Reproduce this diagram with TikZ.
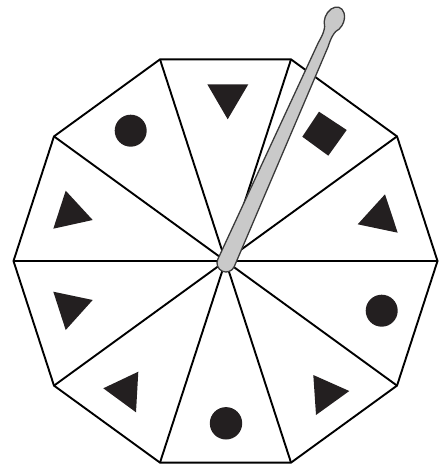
\documentclass[tikz,border=0pt]{standalone}
\usetikzlibrary{calc}
\begin{document}
\begin{tikzpicture}[x=1pt,y=-1pt,
  edge/.style={line width=1.9pt,black},
  markfill/.style={fill=shapeblack},
  rod/.style={fill=rodgray,draw=rodline,line width=1.3pt,line join=round}]
\definecolor{shapeblack}{HTML}{231F20}
\definecolor{rodgray}{HTML}{C9C9C9}
\definecolor{rodline}{HTML}{3A3A3A}
\useasboundingbox (0,0) rectangle (442,470);
\coordinate (O) at (225.5,261);
\foreach \k in {0,...,9}{
  \coordinate (v\k) at ($(O)+({212*cos(36*\k)},{-212*sin(36*\k)})$);
}
% spokes
\foreach \k in {0,...,9}{ \draw[edge] (O) -- (v\k); }
% outline
\draw[edge] (v0) -- (v1) -- (v2) -- (v3) -- (v4) -- (v5) -- (v6) -- (v7) -- (v8) -- (v9) -- cycle;
% marks
\fill[markfill] (207.3,84.3) -- (248.3,84.3) -- (227.7,119.3) -- cycle;
\fill[markfill] (385,194.3) -- (397.7,232.7) -- (357.7,224.3) -- cycle;
\fill[markfill] (313.3,375) -- (349.3,391) -- (316,415) -- cycle;
\fill[markfill] (138.3,371.7) -- (136,412.3) -- (103.3,388.3) -- cycle;
\fill[markfill] (53.3,291.7) -- (92.7,300) -- (65.7,330) -- cycle;
\fill[markfill] (65.7,190.7) -- (92.7,220) -- (53.3,228.7) -- cycle;
\fill[markfill] (319,111.7) -- (346.7,130) -- (328.3,155.7) -- (302.3,136.7) -- cycle;
\fill[markfill] (130.7,130.7) circle[radius=16];
\fill[markfill] (381.7,310.7) circle[radius=16];
\fill[markfill] (226,423.3) circle[radius=16.2];
% pointer
\begin{scope}[shift={(226,263)},rotate=66]
\draw[rod] (0,-9) -- (239,-5.3) .. controls (249,-4.2) and (253,-5) .. (256.2,-6.1)
  arc[start angle=220,end angle=500,x radius=13.2,y radius=9.5]
  .. controls (253,5) and (249,4.2) .. (239,5.3) -- (0,9)
  arc[start angle=90,end angle=270,radius=9] -- cycle;
\end{scope}
\end{tikzpicture}
\end{document}
